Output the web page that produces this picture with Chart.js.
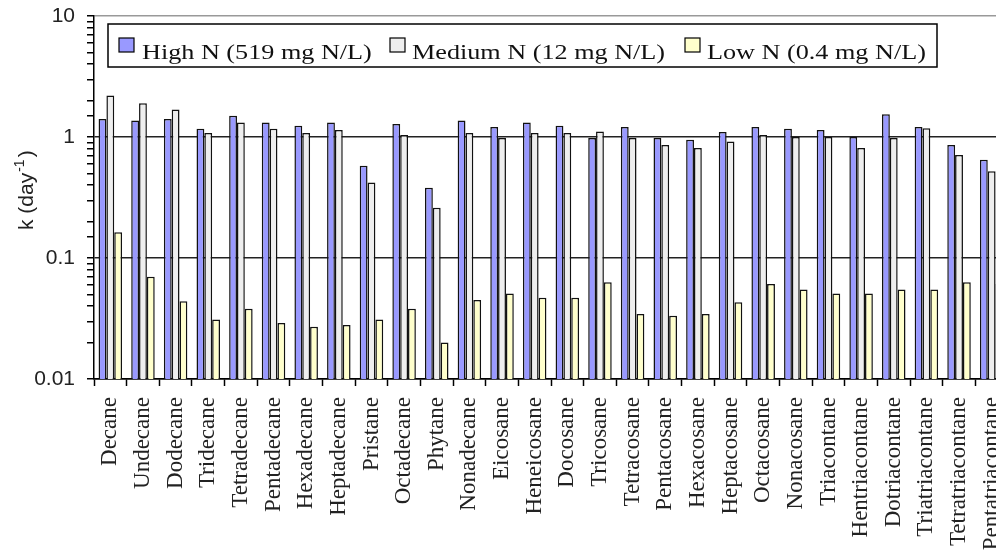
<!DOCTYPE html>
<html>
<head>
<meta charset="utf-8">
<script src="https://cdn.jsdelivr.net/npm/chart.js@4.4.0/dist/chart.umd.min.js"></script>
<style>
    html, body { margin: 0; padding: 0; background: #fff; overflow: hidden; }
</style>
</head>
<body>
<canvas id="myChart" width="1010" height="557"></canvas>
<script>
var categories = ['Decane', 'Undecane', 'Dodecane', 'Tridecane', 'Tetradecane', 'Pentadecane',
    'Hexadecane', 'Heptadecane', 'Pristane', 'Octadecane', 'Phytane', 'Nonadecane', 'Eicosane',
    'Heneicosane', 'Docosane', 'Tricosane', 'Tetracosane', 'Pentacosane', 'Hexacosane',
    'Heptacosane', 'Octacosane', 'Nonacosane', 'Triacontane', 'Hentriacontane', 'Dotriacontane',
    'Triatriacontane', 'Tetratriacontane', 'Pentatriacontane'];

var highN = [1.41, 1.37, 1.41, 1.17, 1.50, 1.32, 1.24, 1.32, 0.58, 1.28, 0.38, 1.37, 1.21, 1.32,
    1.24, 0.98, 1.21, 0.98, 0.95, 1.10, 1.21, 1.17, 1.14, 1.00, 1.54, 1.21, 0.86, 0.65];
var mediumN = [2.2, 1.9, 1.69, 1.08, 1.32, 1.17, 1.08, 1.14, 0.42, 1.04, 0.26, 1.08, 0.98, 1.08,
    1.08, 1.11, 0.98, 0.86, 0.81, 0.92, 1.04, 1.0, 1.0, 0.81, 0.98, 1.18, 0.71, 0.52];
var lowN = [0.163, 0.070, 0.044, 0.031, 0.038, 0.029, 0.027, 0.028, 0.031, 0.038, 0.020, 0.045,
    0.051, 0.047, 0.047, 0.063, 0.0345, 0.0334, 0.0345, 0.043, 0.061, 0.055, 0.051, 0.051,
    0.055, 0.055, 0.063, 0.061];

var seriesLabels = ['High N (519 mg N/L)', 'Medium N (12 mg N/L)', 'Low N (0.4 mg N/L)'];

var yTickValues = [0.01, 0.1, 1, 10];
var yTickLabels = ['0.01', '0.1', '1', '10'];

function tickIndex(value) {
    for (var i = 0; i < yTickValues.length; i++) {
        if (Math.abs(Math.log10(value) - Math.log10(yTickValues[i])) < 1e-6) return i;
    }
    return -1;
}

// legend box drawn inside the plot, like the original
var boxLegend = {
    id: 'boxLegend',
    afterDraw: function(chart) {
        var c = chart.ctx;
        var swatchX = [119, 390, 685];
        var textX = [142, 412, 707];
        c.save();
        c.fillStyle = '#fff';
        c.fillRect(108, 24, 829, 43);
        c.strokeStyle = '#000';
        c.lineWidth = 1.5;
        c.strokeRect(108, 24, 829, 43);
        c.font = '22px "Liberation Serif"';
        c.textBaseline = 'alphabetic';
        chart.data.datasets.forEach(function(ds, i) {
            c.fillStyle = ds.backgroundColor;
            c.fillRect(swatchX[i], 38, 15, 14);
            c.lineWidth = 1.2;
            c.strokeRect(swatchX[i], 38, 15, 14);
            c.save();
            c.translate(textX[i], 59);
            c.scale(1.19, 1);
            c.fillStyle = '#111';
            c.fillText(ds.label, 0, 0);
            c.restore();
        });
        c.restore();

        // y axis title with superscript
        c.save();
        c.translate(33, 230);
        c.rotate(-Math.PI / 2);
        c.fillStyle = '#222';
        c.font = '21px "Liberation Sans"';
        c.textBaseline = 'alphabetic';
        var t1 = 'k (day';
        c.fillText(t1, 0, 0);
        var w = c.measureText(t1).width;
        c.font = '14px "Liberation Sans"';
        c.fillText('-1', w + 1, -9);
        var w2 = c.measureText('-1').width;
        c.font = '21px "Liberation Sans"';
        c.fillText(')', w + w2 + 3, 0);
        c.restore();
    }
};

var ctx = document.getElementById('myChart').getContext('2d');
var myChart = new Chart(ctx, {
    type: 'bar',
    data: {
        labels: categories,
        datasets: [
        {
            label: seriesLabels[0],
            data: highN,
            backgroundColor: '#9999FF',
            borderColor: '#111',
            borderWidth: 1.5
        },
        {
            label: seriesLabels[1],
            data: mediumN,
            backgroundColor: '#EEEEEE',
            borderColor: '#111',
            borderWidth: 1.5
        },
        {
            label: seriesLabels[2],
            data: lowN,
            backgroundColor: '#FFFFCC',
            borderColor: '#111',
            borderWidth: 1.5
        }
        ]
    },
    options: {
        responsive: false,
        animation: false,
        categoryPercentage: 0.72,
        barPercentage: 1.0,
        layout: { padding: { top: 16, right: 2, left: 0, bottom: 0 } },
        plugins: {
            legend: { display: false },
            tooltip: { enabled: false }
        },
        scales: {
            x: {
                offset: true,
                afterFit: function(scale) {
                    scale.height = 178;
                    scale.paddingLeft = 0;
                    scale.paddingRight = 0;
                },
                grid: {
                    offset: true,
                    drawOnChartArea: false,
                    drawTicks: true,
                    tickLength: 7,
                    tickColor: '#000',
                    tickWidth: 1.5
                },
                border: { color: '#000', width: 1.5 },
                ticks: {
                    autoSkip: false,
                    minRotation: 90,
                    maxRotation: 90,
                    padding: 11,
                    color: '#222',
                    font: { family: '"Liberation Serif"', size: 23 }
                }
            },
            y: {
                type: 'logarithmic',
                min: 0.01,
                max: 10,
                afterFit: function(scale) {
                    scale.width = 94;
                    scale.paddingTop = 0;
                    scale.paddingBottom = 0;
                },
                grid: {
                    color: function(context) {
                        var v = context.tick ? context.tick.value : 0;
                        var i = tickIndex(v);
                        if (i === 3) return '#999';
                        if (i === 0) return '#000';
                        if (i > 0) return '#222';
                        return 'rgba(0,0,0,0)';
                    },
                    lineWidth: 1.5,
                    tickLength: 7,
                    tickColor: '#000',
                    tickWidth: 1.5
                },
                border: { color: '#000', width: 1.5 },
                ticks: {
                    autoSkip: false,
                    padding: 12,
                    color: '#222',
                    font: { family: '"Liberation Sans"', size: 21 },
                    callback: function(value) {
                        var i = tickIndex(value);
                        return i >= 0 ? yTickLabels[i] : '';
                    }
                }
            }
        }
    },
    plugins: [boxLegend]
});
</script>
</body>
</html>
